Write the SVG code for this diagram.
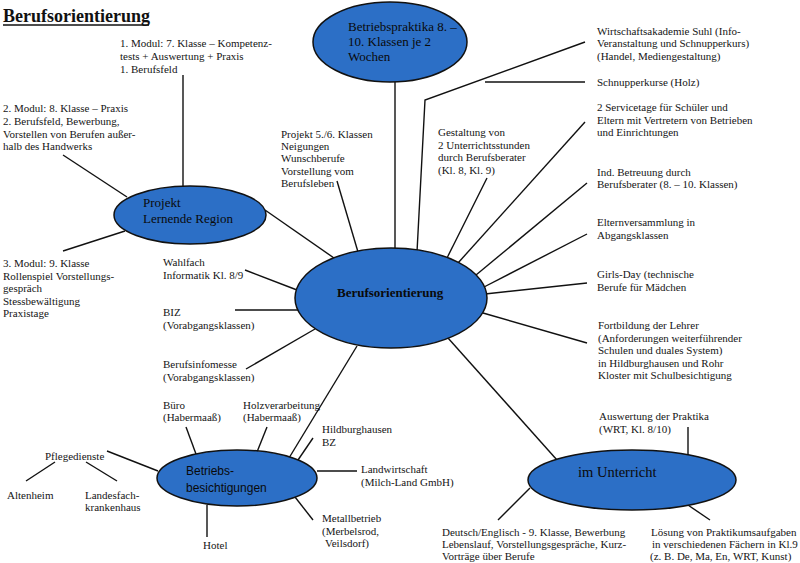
<svg xmlns="http://www.w3.org/2000/svg" width="800" height="563" viewBox="0 0 800 563">
<style>
.t{font-family:"Liberation Serif","Times New Roman",serif;font-size:11px;fill:#151515}
.s{font-family:"Liberation Sans",Arial,sans-serif;font-size:12px;fill:#0a0a0a}
.e{font-family:"Liberation Serif","Times New Roman",serif;font-size:13px;fill:#0a0a0a}
.c line,.c polyline{stroke:#111;stroke-width:1.4;fill:none}
.n{fill:#2c6fc6;stroke:#111;stroke-width:1.5}
</style>
<rect width="800" height="563" fill="#fff"/>
<g id="title">
<text x="3" y="22" style="font-family:'Liberation Serif','Times New Roman',serif;font-size:18px;font-weight:bold;fill:#111">Berufsorientierung</text>
<line x1="3" y1="25" x2="149" y2="25" stroke="#111" stroke-width="1.5"/>
</g>
<g id="connectors" class="c">
<line x1="183" y1="75" x2="183" y2="187"/>
<line x1="63" y1="155" x2="127" y2="197"/>
<line x1="63" y1="251" x2="125" y2="231"/>
<line x1="265" y1="210" x2="334" y2="258"/>
<line x1="337" y1="181" x2="358" y2="252"/>
<line x1="395" y1="82" x2="395" y2="250"/>
<polyline points="585,42 425,100 417,252"/>
<line x1="485" y1="82" x2="585" y2="82"/>
<line x1="487" y1="178" x2="447" y2="258"/>
<line x1="585" y1="122" x2="458" y2="263"/>
<line x1="587" y1="183" x2="476" y2="275"/>
<line x1="587" y1="234" x2="484" y2="287"/>
<line x1="587" y1="283" x2="485" y2="294"/>
<line x1="587" y1="343" x2="483" y2="313"/>
<line x1="448" y1="338" x2="557" y2="460"/>
<line x1="245" y1="270" x2="297" y2="290"/>
<line x1="235" y1="310" x2="298" y2="310"/>
<line x1="246" y1="369" x2="315" y2="329"/>
<line x1="357" y1="346" x2="289" y2="458"/>
<line x1="186" y1="427" x2="196" y2="454"/>
<line x1="267" y1="427" x2="257" y2="452"/>
<line x1="313" y1="438" x2="298" y2="460"/>
<line x1="317" y1="471" x2="357" y2="471"/>
<line x1="295" y1="497" x2="313" y2="520"/>
<line x1="207" y1="505" x2="207" y2="537"/>
<line x1="107" y1="451" x2="158" y2="471"/>
<line x1="55" y1="462" x2="26" y2="481"/>
<line x1="86" y1="462" x2="117" y2="481"/>
<line x1="688" y1="427" x2="688" y2="458"/>
<line x1="530" y1="488" x2="498" y2="520"/>
<line x1="685" y1="503" x2="710" y2="520"/>
</g>
<g id="node-berufsorientierung">
<ellipse class="n" cx="391" cy="298" rx="96" ry="50"/>
<text x="337" y="297" style="font-family:'Liberation Serif','Times New Roman',serif;font-size:13px;font-weight:bold;fill:#0a0a0a">Berufsorientierung</text>
</g>
<g id="node-betriebspraktika">
<ellipse class="n" cx="390" cy="42" rx="77" ry="40"/>
<text class="e" x="348" y="31">Betriebspraktika 8. –</text>
<text class="e" x="348" y="46">10. Klassen je 2</text>
<text class="e" x="348" y="61">Wochen</text>
</g>
<g id="node-projekt">
<ellipse class="n" cx="190" cy="215" rx="76" ry="29"/>
<text class="e" x="143" y="207">Projekt</text>
<text class="e" x="143" y="223">Lernende Region</text>
</g>
<g id="node-betriebsbesichtigungen">
<ellipse class="n" cx="237" cy="478" rx="80" ry="28"/>
<text class="s" x="186" y="475">Betriebs-</text>
<text class="s" x="186" y="492">besichtigungen</text>
</g>
<g id="node-unterricht">
<ellipse class="n" cx="632" cy="480" rx="104" ry="30"/>
<text x="578" y="477" style="font-family:'Liberation Serif','Times New Roman',serif;font-size:14.5px;fill:#0a0a0a">im Unterricht</text>
</g>
<g id="leaf-modul1" class="t">
<text x="120" y="47">1. Modul: 7. Klasse – Kompetenz-</text>
<text x="120" y="60">tests + Auswertung + Praxis</text>
<text x="120" y="73">1. Berufsfeld</text>
</g>
<g id="leaf-modul2" class="t">
<text x="3" y="112">2. Modul: 8. Klasse – Praxis</text>
<text x="3" y="125">2. Berufsfeld, Bewerbung,</text>
<text x="3" y="137.5">Vorstellen von Berufen außer-</text>
<text x="3" y="150">halb des Handwerks</text>
</g>
<g id="leaf-modul3" class="t">
<text x="3" y="267">3. Modul: 9. Klasse</text>
<text x="3" y="279.5">Rollenspiel Vorstellungs-</text>
<text x="3" y="292">gespräch</text>
<text x="3" y="304.5">Stessbewältigung</text>
<text x="3" y="317">Praxistage</text>
</g>
<g id="leaf-projekt56" class="t">
<text x="281" y="138">Projekt 5./6. Klassen</text>
<text x="281" y="150">Neigungen</text>
<text x="281" y="162">Wunschberufe</text>
<text x="281" y="174.5">Vorstellung vom</text>
<text x="281" y="187">Berufsleben</text>
</g>
<g id="leaf-gestaltung" class="t">
<text x="438" y="136">Gestaltung von</text>
<text x="438" y="148.5">2 Unterrichtsstunden</text>
<text x="438" y="161">durch Berufsberater</text>
<text x="438" y="173.5">(Kl. 8, Kl. 9)</text>
</g>
<g id="leaf-wirtschaftsakademie" class="t">
<text x="597" y="34.5">Wirtschaftsakademie Suhl (Info-</text>
<text x="597" y="47">Veranstaltung und Schnupperkurs)</text>
<text x="597" y="59.5">(Handel, Mediengestaltung)</text>
</g>
<g id="leaf-schnupperkurse" class="t">
<text x="597" y="86">Schnupperkurse (Holz)</text>
</g>
<g id="leaf-servicetage" class="t">
<text x="597" y="111">2 Servicetage für Schüler und</text>
<text x="597" y="123.5">Eltern mit Vertretern von Betrieben</text>
<text x="597" y="136">und Einrichtungen</text>
</g>
<g id="leaf-betreuung" class="t">
<text x="597" y="175.5">Ind. Betreuung durch</text>
<text x="597" y="188">Berufsberater (8. – 10. Klassen)</text>
</g>
<g id="leaf-eltern" class="t">
<text x="597" y="225.5">Elternversammlung in</text>
<text x="597" y="238.5">Abgangsklassen</text>
</g>
<g id="leaf-girlsday" class="t">
<text x="597" y="278">Girls-Day (technische</text>
<text x="597" y="290.5">Berufe für Mädchen</text>
</g>
<g id="leaf-fortbildung" class="t">
<text x="598" y="329">Fortbildung der Lehrer</text>
<text x="598" y="341.5">(Anforderungen weiterführender</text>
<text x="598" y="354">Schulen und duales System)</text>
<text x="598" y="366.5">in Hildburghausen und Rohr</text>
<text x="598" y="379">Kloster mit Schulbesichtigung</text>
</g>
<g id="leaf-wahlfach" class="t">
<text x="163" y="266">Wahlfach</text>
<text x="163" y="278.5">Informatik Kl. 8/9</text>
</g>
<g id="leaf-biz" class="t">
<text x="163" y="316">BIZ</text>
<text x="163" y="329">(Vorabgangsklassen)</text>
</g>
<g id="leaf-berufsinfomesse" class="t">
<text x="163" y="368">Berufsinfomesse</text>
<text x="163" y="381">(Vorabgangsklassen)</text>
</g>
<g id="leaf-buero" class="t">
<text x="163" y="409">Büro</text>
<text x="163" y="421">(Habermaaß)</text>
</g>
<g id="leaf-holz" class="t">
<text x="243" y="409">Holzverarbeitung</text>
<text x="243" y="421">(Habermaaß)</text>
</g>
<g id="leaf-hildburghausen" class="t">
<text x="322" y="433">Hildburghausen</text>
<text x="322" y="445.5">BZ</text>
</g>
<g id="leaf-landwirtschaft" class="t">
<text x="361" y="473">Landwirtschaft</text>
<text x="361" y="485.5">(Milch-Land GmbH)</text>
</g>
<g id="leaf-metall" class="t">
<text x="322" y="522">Metallbetrieb</text>
<text x="322" y="534.5">(Merbelsrod,</text>
<text x="325" y="547">Veilsdorf)</text>
</g>
<g id="leaf-hotel" class="t">
<text x="203" y="549">Hotel</text>
</g>
<g id="leaf-pflegedienste" class="t">
<text x="45" y="460">Pflegedienste</text>
</g>
<g id="leaf-altenheim" class="t">
<text x="7" y="499">Altenheim</text>
</g>
<g id="leaf-landesfach" class="t">
<text x="85" y="499">Landesfach-</text>
<text x="85" y="511">krankenhaus</text>
</g>
<g id="leaf-auswertung" class="t">
<text x="599" y="420">Auswertung der Praktika</text>
<text x="599" y="433">(WRT, Kl. 8/10)</text>
</g>
<g id="leaf-deutsch" class="t">
<text x="442" y="536">Deutsch/Englisch - 9. Klasse, Bewerbung</text>
<text x="442" y="548">Lebenslauf, Vorstellungsgespräche, Kurz-</text>
<text x="442" y="559.5">Vorträge über Berufe</text>
</g>
<g id="leaf-loesung" class="t">
<text x="651" y="536">Lösung von Praktikumsaufgaben</text>
<text x="652" y="548">in verschiedenen Fächern in Kl.9</text>
<text x="650" y="559.5">(z. B. De, Ma, En, WRT, Kunst)</text>
</g>
</svg>
